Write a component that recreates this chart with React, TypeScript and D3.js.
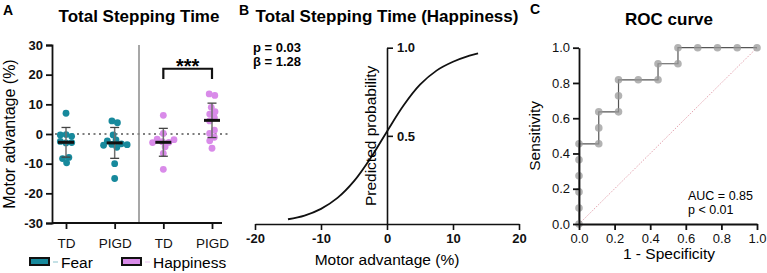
import React, { useEffect, useRef } from 'react';
import * as d3 from 'd3';

// Panel A: motor advantage per group
const groups = ['Fear TD', 'Fear PIGD', 'Happiness TD', 'Happiness PIGD'];
const groupTickLabels = ['TD', 'PIGD', 'TD', 'PIGD'];
const groupEmotion = ['Fear', 'Fear', 'Happiness', 'Happiness'];
const fearTD = [7.0, -0.2, -0.3, -0.8, -2.5, -2.9, -3.0, -7.9, -8.3, -9.7];
const fearPIGD = [4.4, 3.8, -0.3, -2.0, -2.3, -3.3, -3.5, -3.6, -3.8, -4.5, -10.0, -15.0];
const happyTD = [6.3, 0.2, -1.7, -1.9, -2.6, -2.8, -2.9, -4.3, -6.5, -11.9];
const happyPIGD = [13.5, 13.0, 9.0, 7.5, 6.7, 5.5, 4.4, 1.3, 0.2, -1.1, -2.3, -4.8];
const groupValues = [fearTD, fearPIGD, happyTD, happyPIGD];
const groupMeans = [-2.8, -3.0, -2.8, 4.6];
const groupSDs = [5.0, 5.2, 4.7, 5.8];
const motorTicks = [-30, -20, -10, 0, 10, 20, 30];
const emotions = ['Fear', 'Happiness'];
const emotionColors = ['#17899c', '#d98be9'];

// Panel B: fitted logistic curve
const curveX = [-15, -12.5, -10, -7.5, -5, -2.5, 0, 2.5, 5, 7.5, 10, 12.5, 13.8];
const curveP = [0.027, 0.048, 0.086, 0.148, 0.243, 0.373, 0.525, 0.672, 0.79, 0.87, 0.92, 0.955, 0.968];
const advTicks = [-20, -10, 0, 10, 20];
const probTicks = [0.5, 1.0];

// Panel C: ROC curve
const rocFPR = [0, 0, 0, 0, 0, 0, 0.111, 0.111, 0.111, 0.222, 0.222, 0.222, 0.333, 0.444, 0.444, 0.556, 0.556, 0.667, 0.778, 0.889, 1.0];
const rocTPR = [0, 0.091, 0.182, 0.273, 0.364, 0.455, 0.455, 0.545, 0.636, 0.636, 0.727, 0.818, 0.818, 0.818, 0.909, 0.909, 1.0, 1.0, 1.0, 1.0, 1.0];
const rocTicks = [0, 0.2, 0.4, 0.6, 0.8, 1.0];

const FONT = "'Liberation Sans', Arial, sans-serif";

const App: React.FC = () => {
  const svgRef = useRef<SVGSVGElement>(null);

  useEffect(() => {
    if (!svgRef.current) return;
    const svg = d3.select(svgRef.current);
    svg.selectAll('*').remove();
    svg.attr('font-family', FONT);

    const styleAxis = (g: any, w: number) => {
      g.select('.domain').attr('stroke', '#111').attr('stroke-width', w);
      g.selectAll('.tick line').attr('stroke', '#111').attr('stroke-width', w);
      g.selectAll('.tick text')
        .attr('fill', '#111')
        .attr('font-size', 13)
        .attr('font-weight', 'bold')
        .attr('font-family', FONT);
    };

    // ---------- Panel A ----------
    const yA = d3.scaleLinear().domain([-30, 30]).range([223, 45]);
    const xA = d3.scalePoint<string>().domain(groups).range([66, 212]);
    const color = d3.scaleOrdinal<string, string>().domain(emotions).range(emotionColors);
    const axLeftA = 52;
    const axRightA = 222;

    svg.append('text').attr('x', 3).attr('y', 15).attr('font-size', 14).attr('font-weight', 'bold').text('A');
    svg.append('text').attr('x', 139).attr('y', 22).attr('text-anchor', 'middle')
      .attr('font-size', 17).attr('font-weight', 'bold').text('Total Stepping Time');

    // zero line
    svg.append('line')
      .attr('x1', axLeftA + 3).attr('x2', axRightA + 6)
      .attr('y1', yA(0)).attr('y2', yA(0))
      .attr('stroke', '#555').attr('stroke-width', 1.6).attr('stroke-dasharray', '2 3.5');

    // divider between emotions
    const divX = ((xA(groups[1]) as number) + (xA(groups[2]) as number)) / 2;
    svg.append('line')
      .attr('x1', divX).attr('x2', divX).attr('y1', yA(30)).attr('y2', yA(-30))
      .attr('stroke', '#8a8a8a').attr('stroke-width', 1.5);

    // dots (beeswarm with fixed y, slight overlap allowed)
    const r = 3.4;
    groups.forEach((gName, gi) => {
      const cx = xA(gName) as number;
      const nodes: any[] = groupValues[gi].map((v, i) => ({
        v, x: cx + (i % 2 === 0 ? -0.5 : 0.5) * (i + 1) * 0.3, fy: yA(v), y: yA(v),
      }));
      const sim = d3.forceSimulation(nodes)
        .force('x', d3.forceX(cx).strength(0.15))
        .force('collide', d3.forceCollide(2.9).iterations(2))
        .stop();
      for (let i = 0; i < 300; i++) sim.tick();
      svg.append('g').selectAll('circle').data(nodes).enter().append('circle')
        .attr('cx', (d: any) => d.x).attr('cy', (d: any) => d.fy).attr('r', r)
        .attr('fill', color(groupEmotion[gi]));
    });

    // error bars and means
    groups.forEach((gName, gi) => {
      const cx = xA(gName) as number;
      const m = groupMeans[gi];
      const s = groupSDs[gi];
      const g = svg.append('g');
      g.append('line').attr('x1', cx).attr('x2', cx).attr('y1', yA(m + s)).attr('y2', yA(m - s))
        .attr('stroke', '#6f6f6f').attr('stroke-width', 1.5);
      [m + s, m - s].forEach(v => {
        g.append('line').attr('x1', cx - 4.5).attr('x2', cx + 4.5).attr('y1', yA(v)).attr('y2', yA(v))
          .attr('stroke', '#444').attr('stroke-width', 1.3);
      });
      g.append('line').attr('x1', cx - 8).attr('x2', cx + 8).attr('y1', yA(m)).attr('y2', yA(m))
        .attr('stroke', '#111').attr('stroke-width', 3);
    });

    // significance bracket
    const bx1 = xA(groups[2]) as number;
    const bx2 = xA(groups[3]) as number;
    svg.append('path')
      .attr('d', `M${bx1},${yA(18.5)}V${yA(22)}H${bx2}V${yA(18.5)}`)
      .attr('fill', 'none').attr('stroke', '#111').attr('stroke-width', 2.2);
    svg.append('text').attr('x', (bx1 + bx2) / 2).attr('y', yA(22) + 4.5).attr('text-anchor', 'middle')
      .attr('font-size', 20).attr('font-weight', 'bold').text('***');

    const gyA = svg.append('g').attr('transform', `translate(${axLeftA},0)`)
      .call(d3.axisLeft(yA).tickValues(motorTicks).tickSize(6).tickPadding(3).tickFormat(d => String(d)));
    styleAxis(gyA, 1.8);

    const gxA = svg.append('g').attr('transform', `translate(0,${yA(-30)})`)
      .call(d3.axisBottom(xA).tickSize(6).tickPadding(9).tickFormat((d, i) => groupTickLabels[i]));
    gxA.select('.domain').remove();
    gxA.append('line').attr('x1', axLeftA).attr('x2', axRightA).attr('stroke', '#111').attr('stroke-width', 1.8);
    styleAxis(gxA, 1.8);
    gxA.selectAll('.tick text').attr('font-weight', 'normal').attr('font-size', 13.5);

    svg.append('text')
      .attr('transform', `translate(15,${yA(0)}) rotate(-90)`)
      .attr('text-anchor', 'middle').attr('font-size', 16).text('Motor advantage (%)');

    // legend
    const legX = [30, 122];
    emotions.forEach((e, i) => {
      const g = svg.append('g').attr('transform', `translate(${legX[i]},258)`);
      g.append('rect').attr('width', 19).attr('height', 7).attr('fill', emotionColors[i])
        .attr('stroke', '#111').attr('stroke-width', 2);
      g.append('line').attr('x1', 23).attr('x2', 28).attr('y1', 4).attr('y2', 4)
        .attr('stroke', emotionColors[i]).attr('stroke-opacity', 0.5).attr('stroke-width', 1);
      g.append('text').attr('x', 31).attr('y', 10).attr('font-size', 15.5).text(e);
    });

    // ---------- Panel B ----------
    const xB = d3.scaleLinear().domain([-20, 20]).range([255, 519]);
    const yB = d3.scaleLinear().domain([0, 1]).range([224, 47.7]);

    svg.append('text').attr('x', 239).attr('y', 15).attr('font-size', 14).attr('font-weight', 'bold').text('B');
    svg.append('text').attr('x', 387).attr('y', 22).attr('text-anchor', 'middle')
      .attr('font-size', 17).attr('font-weight', 'bold').text('Total Stepping Time (Happiness)');

    const line = d3.line<number>()
      .x((d, i) => xB(curveX[i]))
      .y(d => yB(d))
      .curve(d3.curveCatmullRom);
    svg.append('path').datum(curveP).attr('d', line)
      .attr('fill', 'none').attr('stroke', '#111').attr('stroke-width', 1.8);

    const gxB = svg.append('g').attr('transform', `translate(0,${yB(0)})`)
      .call(d3.axisBottom(xB).tickValues(advTicks).tickSize(6).tickSizeOuter(0).tickPadding(4).tickFormat(d => String(d)));
    styleAxis(gxB, 1.6);
    const gyB = svg.append('g').attr('transform', `translate(${xB(0)},0)`)
      .call(d3.axisRight(yB).tickValues(probTicks).tickSize(6).tickSizeOuter(0).tickPadding(4).tickFormat(d3.format('.1f')));
    styleAxis(gyB, 1.6);

    svg.append('text')
      .attr('transform', `translate(376,${yB(0.5)}) rotate(-90)`)
      .attr('text-anchor', 'middle').attr('font-size', 15.5).text('Predicted probability');
    svg.append('text').attr('x', xB(0)).attr('y', 265).attr('text-anchor', 'middle')
      .attr('font-size', 15.5).text('Motor advantage (%)');
    svg.append('text').attr('x', 253).attr('y', 52).attr('font-size', 13).attr('font-weight', 'bold').text('p = 0.03');
    svg.append('text').attr('x', 253).attr('y', 66).attr('font-size', 13).attr('font-weight', 'bold').text('β = 1.28');

    // ---------- Panel C ----------
    const xC = d3.scaleLinear().domain([0, 1]).range([579, 757]);
    const yC = d3.scaleLinear().domain([0, 1]).range([224, 47.7]);

    svg.append('text').attr('x', 530).attr('y', 14).attr('font-size', 14).attr('font-weight', 'bold').text('C');
    svg.append('text').attr('x', 669).attr('y', 25).attr('text-anchor', 'middle')
      .attr('font-size', 17).attr('font-weight', 'bold').text('ROC curve');

    svg.append('line')
      .attr('x1', xC(0)).attr('y1', yC(0)).attr('x2', xC(1)).attr('y2', yC(1))
      .attr('stroke', '#e3a2ae').attr('stroke-width', 1).attr('stroke-dasharray', '1.5 1.5');

    const rocLine = d3.line<number>().x(d => xC(d)).y((d, i) => yC(rocTPR[i]));
    svg.append('path').datum(rocFPR).attr('d', rocLine)
      .attr('fill', 'none').attr('stroke', '#555').attr('stroke-width', 1.2);
    svg.append('g').selectAll('circle').data(rocFPR).enter().append('circle')
      .attr('cx', d => xC(d)).attr('cy', (d, i) => yC(rocTPR[i])).attr('r', 3.8)
      .attr('fill', '#9a9a9a').attr('fill-opacity', 0.75);

    const gyC = svg.append('g').attr('transform', `translate(${xC(0)},0)`)
      .call(d3.axisLeft(yC).tickValues(rocTicks).tickSize(6).tickSizeOuter(0).tickPadding(3).tickFormat(d3.format('.1f')));
    styleAxis(gyC, 1.8);
    const gxC = svg.append('g').attr('transform', `translate(0,${yC(0)})`)
      .call(d3.axisBottom(xC).tickValues(rocTicks).tickSize(6).tickSizeOuter(0).tickPadding(4).tickFormat(d3.format('.1f')));
    styleAxis(gxC, 1.8);
    gyC.selectAll('.tick text').attr('font-weight', 'normal');
    gxC.selectAll('.tick text').attr('font-weight', 'normal');

    svg.append('text')
      .attr('transform', `translate(540,${yC(0.5)}) rotate(-90)`)
      .attr('text-anchor', 'middle').attr('font-size', 15.5).text('Sensitivity');
    svg.append('text').attr('x', 669).attr('y', 259).attr('text-anchor', 'middle')
      .attr('font-size', 15.5).text('1 - Specificity');
    svg.append('text').attr('x', 688).attr('y', 200).attr('font-size', 12.5).text('AUC = 0.85');
    svg.append('text').attr('x', 688).attr('y', 214).attr('font-size', 12.5).text('p < 0.01');
  }, []);

  return (
    <svg
      ref={svgRef}
      width={767}
      height={273}
      style={{ position: 'absolute', left: 0, top: 0, background: '#fff' }}
    />
  );
};

export default App;
